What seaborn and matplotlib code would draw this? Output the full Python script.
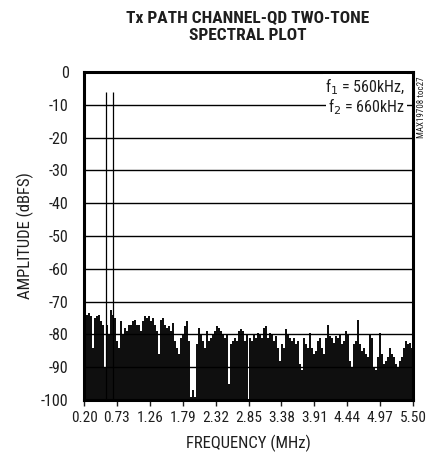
import numpy as np
import pandas as pd
import seaborn as sns
import matplotlib.pyplot as plt
from matplotlib import font_manager

# ---------- data ----------
tone_freqs = [0.56, 0.66]          # MHz
tone_levels = [-6.0, -6.0]         # dBFS

# noise floor tops, 4 chunks from 0.20 to 5.50 MHz
noise_a = [-73, -74, -73.5, -74.5, -84, -75, -74.5, -74, -76, -77,
           -90, -77, -80, -72.5, -74, -75, -82, -84, -76, -80,
           -78, -79, -77, -77, -76, -75.5, -77, -77, -79, -76,
           -74.5, -75, -74.5, -76, -75, -77, -79, -86, -75.5, -75, -77]
noise_b = [-78, -77.5, -79, -76.5, -82, -84, -86, -81, -80, -77.5,
           -76, -82, -99, -97, -99, -83, -78, -80, -82, -84,
           -79, -82, -81, -80, -79, -77.5, -78, -79, -80, -81,
           -80, -95, -83, -82, -81, -82, -79, -78.5, -79, -82, -80]
noise_c = [-81, -82, -80, -81, -79.5, -80, -81, -78, -77.5, -81,
           -79.5, -80, -82, -80.5, -84, -88, -83, -84, -78.5, -80,
           -81, -82, -81, -83, -82, -89, -91, -81, -83, -84,
           -79.5, -84, -86, -85, -82, -81, -84, -86, -81, -77, -80.5]
noise_d = [-81, -82.5, -80.5, -81, -80, -83, -82, -79, -80, -88,
           -90, -83, -82, -75.5, -83, -85, -84, -86, -87, -80,
           -81, -90, -91, -87, -79.5, -86, -89, -88, -87, -84,
           -86, -87, -89, -90, -88, -87, -84, -82, -83, -82.5, -84]

xticks = [0.20, 0.73, 1.26, 1.79, 2.32, 2.85, 3.38, 3.91, 4.44, 4.97, 5.50]
yticks = list(range(-100, 1, 10))
floor = -100

noise = noise_a + noise_b + noise_c + noise_d
df = pd.DataFrame({"freq": np.linspace(0.21, 5.49, len(noise)), "dbfs": noise})
tones = pd.DataFrame({"freq": tone_freqs, "dbfs": tone_levels})

# ---------- style ----------
sns.set_style("ticks")
have = {f.name for f in font_manager.fontManager.ttflist}
narrow = [n for n in ["Roboto Condensed", "Liberation Sans Narrow",
                      "DejaVu Sans Condensed"] if n in have]
plt.rcParams['font.family'] = narrow + ['Roboto', 'DejaVu Sans']
plt.rcParams['axes.unicode_minus'] = False
ink = "#1e1e1e"

fig = plt.figure(figsize=(4.36, 4.58), dpi=100)
ax = fig.add_axes([84 / 436, 1 - 400 / 458, 329 / 436, 328 / 458])

# noise floor as stems
ax.vlines(df["freq"], floor, df["dbfs"], color="black", lw=1.35)
# the two tones
ax.vlines(tones["freq"], floor, tones["dbfs"], color="black", lw=0.9)

for y in yticks[1:-1]:
    ax.axhline(y, color="black", lw=1.0, zorder=3)

ax.set_xlim(0.2, 5.5)
ax.set_ylim(-100, 0)
ax.set_xticks(xticks)
ax.set_xticklabels([f"{t:.2f}" for t in xticks])
ax.set_yticks(yticks)
ax.tick_params(axis="x", direction="out", length=4, width=1, labelsize=11,
               colors=ink, pad=4)
ax.tick_params(axis="y", length=0, labelsize=11.5, colors=ink, pad=11)
for s in ax.spines.values():
    s.set_visible(True)
    s.set_linewidth(2.2)
    s.set_color("black")
    s.set_zorder(5)

ax.set_xlabel("FREQUENCY (MHz)", fontsize=12, color=ink, labelpad=7)
ax.set_ylabel("AMPLITUDE (dBFS)", fontsize=12, color=ink, labelpad=5)

fig.text(248 / 436, 1 - 27 / 458, "Tx PATH CHANNEL-QD TWO-TONE\nSPECTRAL PLOT",
         ha="center", va="center", fontsize=12.5, fontweight="bold",
         color=ink, linespacing=1.2)

box = dict(facecolor="white", edgecolor="none", pad=1.5)
ax.text(0.975, 0.955, "f$_1$ = 560kHz,", transform=ax.transAxes, ha="right",
        va="center", fontsize=11.5, color=ink, bbox=box, zorder=6)
ax.text(0.975, 0.895, "f$_2$ = 660kHz", transform=ax.transAxes, ha="right",
        va="center", fontsize=11.5, color=ink, bbox=box, zorder=6)
fig.text(421 / 436, 1 - 107 / 458, "MAX19708 toc27", rotation=90,
         ha="center", va="center", fontsize=6.5, color=ink)

fig.savefig("out.png", dpi=100)
